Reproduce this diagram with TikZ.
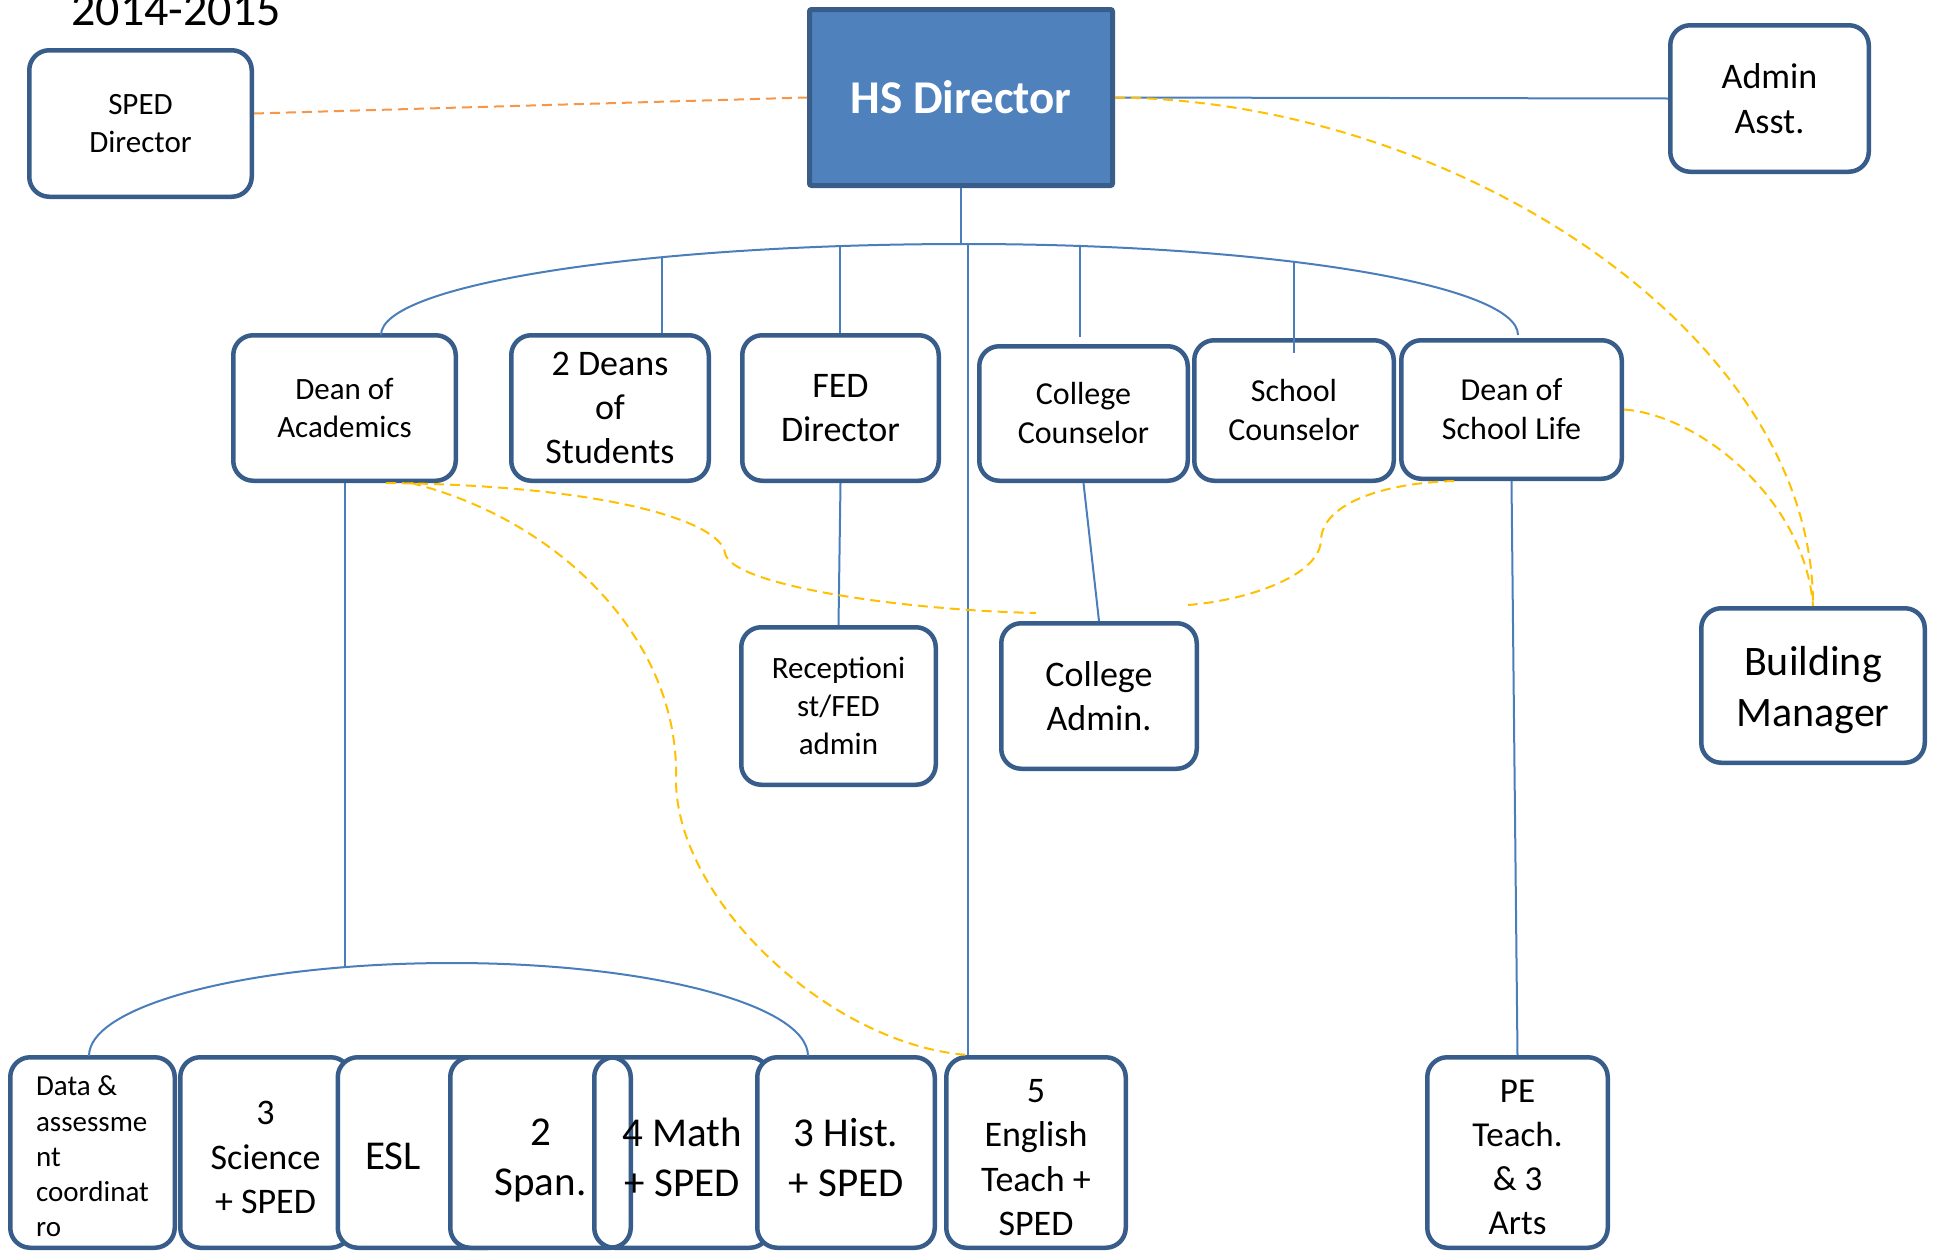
\documentclass[tikz,border=0pt]{standalone}
\usepackage{fontspec}
\setmainfont{Carlito}
\definecolor{boxline}{HTML}{385D8A}
\definecolor{hsfill}{HTML}{4F81BD}
\definecolor{link}{HTML}{4A7EBB}
\definecolor{orangedash}{HTML}{F79646}
\definecolor{golddash}{HTML}{FFC000}
\tikzset{
  role/.style={draw=boxline, line width=2.25pt, rounded corners=10pt, fill=white,
    inner sep=0pt, align=center, text=black},
  hollow/.style={fill=none},
  caption/.style={inner sep=0pt, align=center, text=black},
  sz145/.style={font=\fontsize{14.5pt}{17.6pt}\selectfont},
  sz155/.style={font=\fontsize{15.5pt}{18.9pt}\selectfont},
  sz16/.style={font=\fontsize{16pt}{19.5pt}\selectfont},
  sz175/.style={font=\fontsize{17.5pt}{22pt}\selectfont},
  sz18/.style={font=\fontsize{18pt}{22.2pt}\selectfont},
  sz205/.style={font=\fontsize{20.5pt}{25pt}\selectfont},
  sz21/.style={font=\fontsize{21pt}{25.5pt}\selectfont},
  link/.style={draw=link, line width=1pt},
  orangelink/.style={draw=orangedash, line width=1pt, dash pattern=on 5pt off 3pt},
  goldlink/.style={draw=golddash, line width=1pt, dash pattern=on 5pt off 3pt},
}
\begin{document}
\begin{tikzpicture}[x=0.5pt,y=-0.5pt]
\useasboundingbox (0,0) rectangle (1940,1253);

% title
\node[anchor=base, font=\fontsize{24pt}{29pt}\selectfont] (year) at (176,25) {2014-2015};

% top row
\node[role, sz155, minimum width=111.25pt, minimum height=73.25pt] (sped) at (140.5,123.5) {SPED\\Director};
\node[draw=boxline, fill=hsfill, line width=2.5pt, rounded corners=1pt, inner sep=0pt,
      minimum width=151.5pt, minimum height=88pt, text=white,
      font=\fontsize{23.5pt}{28.7pt}\selectfont\bfseries] (hs) at (961,97.5) {HS Director};
\node[role, sz18, minimum width=99.25pt, minimum height=73.25pt] (admin) at (1769.5,98.5) {Admin\\Asst.};

% second row
\node[role, sz155, minimum width=111.25pt, minimum height=72.75pt] (doa) at (344.5,408) {Dean of\\Academics};
\node[role, sz18, minimum width=98.75pt, minimum height=72.75pt] (deans) at (610,408) {2 Deans\\of\\Students};
\node[role, sz18, minimum width=98.25pt, minimum height=72.75pt] (fed) at (840.5,408) {FED\\Director};
\node[role, sz16, minimum width=104.25pt, minimum height=67.25pt] (cc) at (1083.5,413.5) {College\\Counselor};
\node[role, sz16, minimum width=99.75pt, minimum height=70.25pt] (sc) at (1294,410.5) {School\\Counselor};
\node[role, sz16, minimum width=110.25pt, minimum height=69.25pt] (dsl) at (1511.5,409.5) {Dean of\\School Life};

% third row
\node[role, sz155, minimum width=97.25pt, minimum height=78.75pt] (rec) at (838.5,706) {Receptioni\\st/FED\\admin};
\node[role, sz18, minimum width=97.75pt, minimum height=72.75pt] (ca) at (1099,696) {College\\Admin.};
\node[role, minimum width=111.75pt, minimum height=77.25pt] (bm) at (1813,685.5) {};
\node[caption, sz21] (bmText) at ([yshift=-2.5pt]bm.center) {Building\\Manager};

% teaching staff row: frames first, captions after
\node[role, minimum width=82.25pt, minimum height=95.25pt] (data) at (92.5,1152.5) {};
\node[caption, sz145, align=left] (dataText) at ([yshift=-2pt]data.center) {Data \&\\assessme\\nt\\coordinat\\ro};
\node[role, minimum width=85.25pt, minimum height=95.25pt] (sci) at (265.5,1152.5) {};
\node[caption, sz18] (sciText) at ([yshift=-2.5pt]sci.center) {3\\Science\\+ SPED};
\node[role, minimum width=85.25pt, minimum height=95.25pt] (esl) at (423,1152.5) {};
\node[caption, sz205] (eslText) at ([yshift=-2pt]esl.center -| 393,0) {ESL};
\node[role, minimum width=90.25pt, minimum height=95.25pt] (span) at (540.5,1152.5) {};
\node[caption, sz205] (spanText) at ([yshift=-4pt]span.center) {2\\Span.};
\node[role, hollow, minimum width=87.75pt, minimum height=95.25pt] (math) at (682,1152.5) {};
\node[caption, sz205] (mathText) at ([yshift=-2.5pt]math.center) {4 Math\\+ SPED};
\node[role, minimum width=88.75pt, minimum height=95.25pt] (hist) at (846,1152.5) {};
\node[caption, sz205] (histText) at ([yshift=-2.5pt]hist.center) {3 Hist.\\+ SPED};
\node[role, minimum width=89.75pt, minimum height=95.25pt] (eng) at (1036,1152.5) {};
\node[caption, sz18] (engText) at ([yshift=-2.5pt]eng.center) {5\\English\\Teach +\\SPED};
\node[role, minimum width=90.25pt, minimum height=95.25pt] (pe) at (1517.5,1152.5) {};
\node[caption, sz175] (peText) at ([yshift=-2.5pt]pe.center) {PE\\Teach.\\\& 3\\Arts};

% points on the two brackets
\coordinate (arcL) at (381,335);
\coordinate (arcTop) at (965,244);
\coordinate (arcR) at (1518,335);
\coordinate (tDeans) at (662,257.2);
\coordinate (tFed) at (840,246.1);
\coordinate (tCc) at (1080,246);
\coordinate (tSc) at (1294,261.9);
\coordinate (tEng) at (968,244);
\coordinate (bL) at (89,1056);
\coordinate (bTop) at (452,963);
\coordinate (bR) at (808,1056);
\coordinate (bDoa) at (344.5,967.2);
\coordinate (gapL) at (1036,613);
\coordinate (gapR) at (1188,605);

% reporting lines
\draw[link] (hs.east) -- (admin.west);
\draw[link] (hs.south) -- (hs.south |- arcTop);
\draw[link] (arcL) .. controls (381,284.7) and (642.5,244) .. (arcTop)
                   .. controls (1270.4,244) and (1518,284.7) .. (arcR);
\draw[link] (tDeans) -- (tDeans |- deans.north);
\draw[link] (tFed) -- (tFed |- fed.north);
\draw[link] (tCc) -- ([yshift=3.5pt]tCc |- cc.north);
\draw[link] (tSc) -- ([yshift=-7.5pt]tSc |- sc.north);
\draw[link] (tEng) -- (tEng |- eng.north);
\draw[link] (fed.south) -- (rec.north);
\draw[link] (cc.south) -- (ca.north);
\draw[link] (dsl.south) -- (pe.north);
\draw[link] (doa.south) -- (bDoa);
\draw[link] (bL) .. controls (89,1004.6) and (251.5,963) .. (bTop)
                 .. controls (648.6,963) and (808,1004.6) .. (bR);

% dashed working relationships
\draw[orangelink] ([yshift=5pt]sped.east) -- (hs.west);
\draw[goldlink] (hs.east) .. controls (1450,100) and (1814,330) .. (bm.north);
\draw[goldlink] (dsl.east) .. controls (1700,415) and (1805,500) .. (bm.north);
\draw[goldlink] ([xshift=20.75pt]doa.south) .. controls (600,485) and (720,520) .. (725,553)
                .. controls (730,585) and (900,610) .. (gapL);
\draw[goldlink] ([xshift=-28.75pt]dsl.south) .. controls (1380,483) and (1322,505) .. (1321,540)
                .. controls (1320,575) and (1250,600) .. (gapR);
\draw[goldlink] ([xshift=33.25pt]doa.south) .. controls (560,520) and (680,640) .. (676,780)
                .. controls (676,900) and (830,1045) .. (tEng |- eng.north);
\end{tikzpicture}
\end{document}
